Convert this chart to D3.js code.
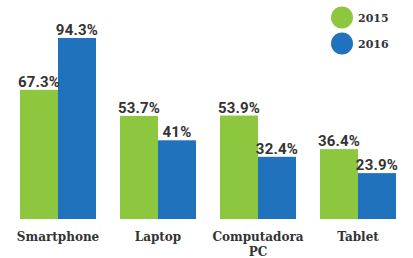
<!DOCTYPE html>
<html>
<head>
<meta charset="utf-8">
<script src="https://cdn.jsdelivr.net/npm/d3@7"></script>
<style>
  body { margin: 0; background: #fff; }
</style>
</head>
<body>
<script>
// data
var categories = ["Smartphone", "Laptop", "Computadora PC", "Tablet"];
var years = ["2015", "2016"];
var values2015 = [67.3, 53.7, 53.9, 36.4];
var values2016 = [94.3, 41, 32.4, 23.9];
var valueLabels2015 = ["67.3%", "53.7%", "53.9%", "36.4%"];
var valueLabels2016 = ["94.3%", "41%", "32.4%", "23.9%"];
var colors = ["#8dc63f", "#1f72bb"];

const canvWidth = 413, canvHeight = 258;
const baseline = 219;

const svg = d3.select("body").append("svg")
    .attr("width", canvWidth)
    .attr("height", canvHeight);

var xScale = d3.scaleBand()
    .domain(categories)
    .range([8, 408])
    .paddingInner(0.24)
    .paddingOuter(0.12);

var xInner = d3.scaleBand()
    .domain(years)
    .range([0, xScale.bandwidth()]);

var yScale = d3.scaleLinear()
    .domain([0, 94.3])
    .range([baseline, 38]);

var rows = categories.map(function (c, i) {
    return {cat: c, vals: [values2015[i], values2016[i]], labels: [valueLabels2015[i], valueLabels2016[i]]};
});

var groups = svg.selectAll("g.cat")
    .data(rows).enter()
    .append("g")
    .attr("class", "cat")
    .attr("transform", d => "translate(" + xScale(d.cat) + ",0)");

groups.selectAll("rect")
    .data(d => years.map((y, k) => ({year: y, v: d.vals[k], k: k})))
    .enter().append("rect")
    .attr("x", d => xInner(d.year))
    .attr("y", d => yScale(d.v))
    .attr("width", xInner.bandwidth())
    .attr("height", d => baseline - yScale(d.v))
    .attr("fill", d => colors[d.k]);

groups.selectAll("text.val")
    .data(d => years.map((y, k) => ({year: y, v: d.vals[k], label: d.labels[k]})))
    .enter().append("text")
    .attr("class", "val")
    .attr("x", d => xInner(d.year) + xInner.bandwidth() / 2)
    .attr("y", d => yScale(d.v) - 3)
    .attr("text-anchor", "middle")
    .attr("font-family", "Roboto, sans-serif")
    .attr("font-weight", "bold")
    .attr("font-size", "15px")
    .attr("letter-spacing", "0.2px")
    .attr("fill", "#333")
    .text(d => d.label);

// category labels (slab serif look)
groups.append("text")
    .attr("x", xScale.bandwidth() / 2)
    .attr("y", 241)
    .attr("text-anchor", "middle")
    .attr("font-family", "'DejaVu Serif', serif")
    .attr("font-weight", "bold")
    .attr("font-size", "12px")
    .attr("fill", "#333")
    .each(function (d) {
        var words = d.cat === "Computadora PC" ? ["Computadora", "PC"] : [d.cat];
        var t = d3.select(this);
        words.forEach(function (w, i) {
            t.append("tspan")
                .attr("x", xScale.bandwidth() / 2)
                .attr("dy", i === 0 ? 0 : 15)
                .text(w);
        });
    });

// legend
var legend = svg.selectAll("g.legend")
    .data(years).enter()
    .append("g")
    .attr("class", "legend")
    .attr("transform", (d, i) => "translate(342," + (17.5 + i * 26) + ")");

legend.append("circle")
    .attr("r", 11)
    .attr("fill", (d, i) => colors[i]);

legend.append("text")
    .attr("x", 16)
    .attr("y", 4)
    .attr("font-family", "'DejaVu Serif', serif")
    .attr("font-weight", "bold")
    .attr("font-size", "11px")
    .attr("fill", "#333")
    .text(d => d);
</script>
</body>
</html>
